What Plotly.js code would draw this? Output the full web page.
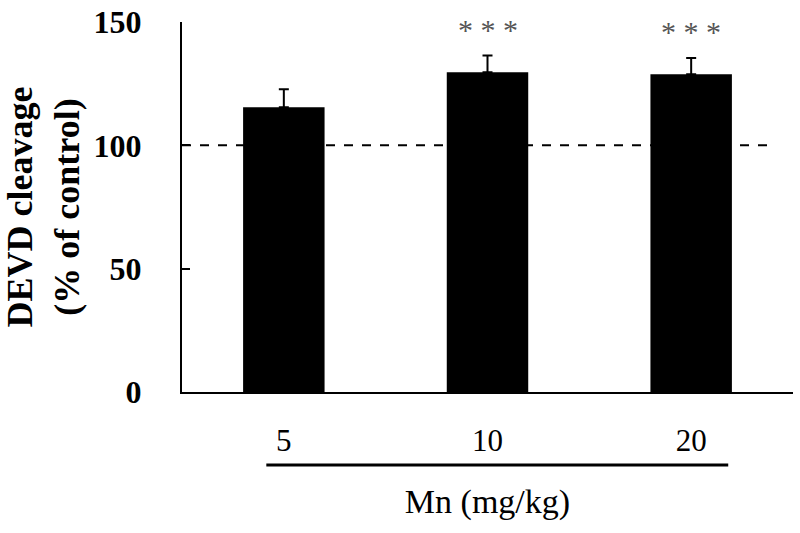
<!DOCTYPE html>
<html>
<head>
<meta charset="utf-8">
<script src="https://cdn.plot.ly/plotly-3.0.1.min.js"></script>
<style>
  html, body { margin: 0; padding: 0; background: #fff; }
  #grafica { width: 800px; height: 533px; }
</style>
</head>
<body>
<div id="grafica"></div>
<script>
// Datos
const dosis = ["5", "10", "20"];
const devd = [115.4, 129.6, 128.8];
const errorSup = [7.3, 6.8, 6.6];
const signif = ["", "***", "***"];
const control = 100;

const serif = "Liberation Serif, Times New Roman, serif";

const barras = {
    x: dosis,
    y: devd,
    type: 'bar',
    width: 0.4,
    marker: { color: '#000000', line: { width: 0 } },
    error_y: {
        type: 'data',
        symmetric: false,
        array: errorSup,
        arrayminus: [0, 0, 0],
        color: '#000000',
        thickness: 2,
        width: 5
    },
    hoverinfo: 'skip'
};

// asteriscos de significancia sobre cada barra
const estrellas = [];
dosis.forEach((d, i) => {
    if (!signif[i]) return;
    estrellas.push({
        x: i,
        y: devd[i] + errorSup[i],
        xref: 'x',
        yref: 'y',
        yshift: 8,
        yanchor: 'bottom',
        text: signif[i].split("").join(" "),
        showarrow: false,
        font: { family: serif, size: 30, color: '#555555' }
    });
});

const layout = {
    width: 800,
    height: 533,
    margin: { l: 182, r: 7, t: 22, b: 141 },
    paper_bgcolor: '#ffffff',
    plot_bgcolor: '#ffffff',
    showlegend: false,
    xaxis: {
        type: 'category',
        range: [-0.5, 2.5],
        showline: true,
        linecolor: '#000000',
        linewidth: 2,
        ticks: '',
        showgrid: false,
        zeroline: false,
        tickfont: { family: serif, size: 31, color: '#000000' },
        ticklabelstandoff: 20,
        title: {
            text: 'Mn (mg/kg)',
            font: { family: serif, size: 34, color: '#000000' },
            standoff: 32
        }
    },
    yaxis: {
        range: [0, 150],
        tickvals: [0, 50, 100, 150],
        showline: true,
        linecolor: '#000000',
        linewidth: 2,
        ticks: 'inside',
        ticklen: 8,
        tickwidth: 2,
        tickcolor: '#000000',
        showgrid: false,
        zeroline: false,
        tickfont: { family: serif, size: 32, color: '#000000', weight: 'bold' },
        ticklabelstandoff: 32,
        title: {
            text: 'DEVD cleavage<br>(% of control)',
            font: { family: serif, size: 36, color: '#000000', weight: 'bold' },
            standoff: 7
        }
    },
    shapes: [
        {
            type: 'line',
            xref: 'paper', yref: 'y',
            x0: 0, x1: 0.962,
            y0: control, y1: control,
            line: { color: '#000000', width: 2, dash: 'dash' }
        },
        {
            type: 'line',
            xref: 'paper', yref: 'paper',
            x0: 0.138, x1: 0.894,
            y0: -0.197, y1: -0.197,
            line: { color: '#000000', width: 3 }
        }
    ],
    annotations: estrellas
};

Plotly.newPlot("grafica", [barras], layout, { displayModeBar: false, staticPlot: true });
</script>
</body>
</html>
